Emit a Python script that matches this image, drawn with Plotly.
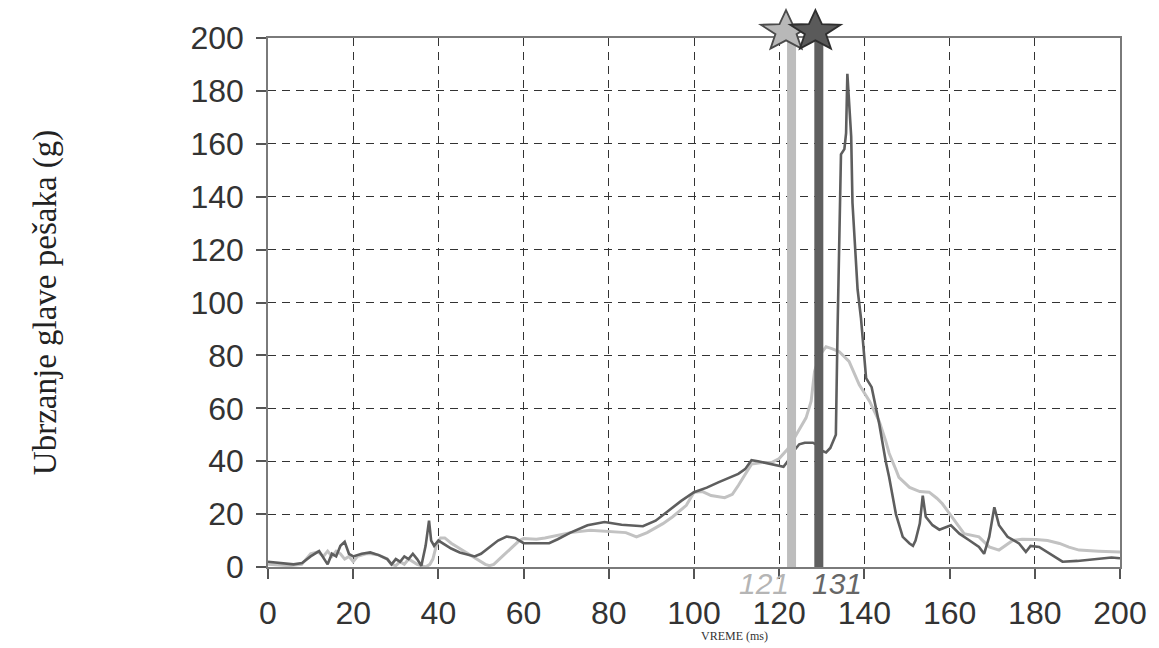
import math
import plotly.graph_objects as go

# ---- data ----
dark_x = [0, 3, 6, 8, 10, 12, 14, 15, 16, 17, 18, 19, 20, 22, 24, 26, 28, 29, 30, 31, 32, 33, 34, 35, 36, 37,
          37.8, 38.3, 39, 40, 41, 43, 45, 47, 48.5, 50, 52, 54, 56, 58, 60, 63, 66, 68, 71, 75, 79, 83, 88, 91,
          94, 97, 100, 103, 105.7, 108, 110.4, 112, 113.5, 115, 116.6, 118, 120, 121, 122, 123, 124.7, 126,
          127.9, 129, 130, 131, 132, 133.3, 133.7, 134, 134.5, 135.3, 135.7, 136, 136.4, 136.9, 137.2, 138.4,
          139.2, 140.4, 141.7, 143.5, 145, 145.8, 147.4, 149, 150.6, 151.4, 152, 153, 153.7, 154.4, 156, 157.6,
          160.3, 162.3, 164.6, 166.9, 168.1, 169.3, 170.5, 171.6, 173.6, 176.3, 177.9, 179, 181, 184.1, 186.5,
          190, 192, 196, 198, 200]
dark_y = [2, 1.5, 1, 1.5, 4, 6, 1, 5, 4, 8, 9.5, 5, 4, 5, 5.5, 4.5, 3, 1, 3, 2, 4, 3, 5, 3, 0.5, 8,
          17.5, 10, 8, 10, 9, 7, 5.5, 4.5, 4, 5, 7.5, 10, 11.5, 11, 9, 9, 9, 10.5, 13, 15.8, 17, 16, 15.4, 17.5,
          21.4, 25, 28.3, 30, 32, 33.5, 35.2, 37, 40.4, 40, 39.4, 39, 38, 37.9, 40, 43, 46.4, 47,
          47, 46, 44, 43.3, 45, 50, 90, 120, 156, 158, 164, 186.5, 175, 162.7, 137.7, 105,
          94, 71.4, 68, 54, 40, 34, 20, 11.4, 8.9, 8, 10, 16.4, 27, 19, 15.8, 14.1,
          15.8, 12.6, 10.1, 7.6, 5, 11.4, 22.6, 15.8, 11.4, 8.9, 5.7, 8, 7.6, 4.5, 2,
          2.3, 2.6, 3.2, 3.6, 3.3]

light_x = [0, 5, 7.9, 9, 10, 11.7, 13, 14, 15, 16, 17, 18, 19, 20, 21, 23, 24.3, 26, 28, 29, 30, 31, 32, 33, 34,
           35, 36, 37, 38, 38.7, 39.5, 40.5, 41.5, 43, 45, 47, 49, 51, 52, 53, 55, 57, 59, 60, 63, 65, 67.8, 71,
           75.6, 79, 81, 84, 86.5, 89, 92.7, 95, 98.2, 100, 102, 104, 107.2, 109, 110.4, 112, 113.5, 116, 118.2,
           120, 122, 124, 126.3, 127.5, 128.3, 129.5, 131, 132.5, 134.1, 136.4, 138.8, 141.2, 143.5, 145, 145.8,
           147.5, 148.1, 150.6, 153, 155.2, 157, 158.3, 160, 161.1, 163.4, 166.9, 169.3, 171.6, 173, 174.8, 177,
           180.3, 183, 185.8, 188, 190.4, 195, 200]
light_y = [1, 0.5, 1, 3, 5, 5.7, 4, 6, 4, 6, 5, 3, 4, 2, 4, 5, 5, 4.5, 3, 1, 0.5, 2, 1, 3, 2,
           1, 0.5, 0, 1, 3, 8, 11, 11, 9, 7, 5, 3, 1, 0.5, 1, 4, 7, 10, 10.8, 10.5, 11, 12, 13,
           13.9, 13.5, 13.3, 13, 11.4, 13, 16.4, 19, 23.3, 28.3, 28.5, 27, 26.2, 27.5, 30.8, 35, 38.9, 39.5, 39.5,
           41, 44.6, 50, 56.4, 62.7, 74, 80, 83.3, 82.5, 81.4, 77.7, 68.9, 62.7, 55, 47.7, 43,
           36.4, 33.9, 30.1, 28.5, 28.3, 26, 23.9, 20, 17.6, 12.6, 11.4, 7.6, 6.4, 8, 10, 10.5,
           10.4, 10, 8.9, 7.5, 6.4, 6, 5.7]

# event markers (bar positions as drawn) and their labels
event_x = [122.9, 129.3]
event_labels = ["121", "131"]
event_label_x = [116.5, 133.6]
star_x = [121.6, 128.5]

x_ticks = list(range(0, 201, 20))
y_ticks = list(range(0, 201, 20))

LIGHT = "#c2c2c2"
DARK = "#5e5e5e"

# layout geometry
W, H = 1151, 640
ML, MR, MT, MB = 260, 37, 26, 81
PW, PH = W - ML - MR, H - MT - MB
X_RANGE = [0, 200]

fig = go.Figure()

fig.add_trace(go.Scatter(x=light_x, y=light_y, mode="lines",
                         line=dict(color=LIGHT, width=3), showlegend=False, hoverinfo="skip"))
fig.add_trace(go.Scatter(x=dark_x, y=dark_y, mode="lines",
                         line=dict(color=DARK, width=2.6), showlegend=False, hoverinfo="skip"))

bar_colors = ["#bdbdbd", "#5f5f5f"]
for ex, col in zip(event_x, bar_colors):
    fig.add_trace(go.Scatter(x=[ex, ex], y=[0, 200], mode="lines",
                             line=dict(color=col, width=9), showlegend=False, hoverinfo="skip"))


def star_path(cx_data, cy_paper, rx_px, ry_px, inner=0.42):
    cx = (cx_data - X_RANGE[0]) / (X_RANGE[1] - X_RANGE[0])
    pts = []
    for k in range(10):
        a = math.radians(90 - 36 * k)
        f = 1.0 if k % 2 == 0 else inner
        px = cx + f * rx_px * math.cos(a) / PW
        py = cy_paper + f * ry_px * math.sin(a) / PH
        pts.append("%.5f,%.5f" % (px, py))
    return "M " + " L ".join(pts) + " Z"


star_fill = ["#b8b8b8", "#5a5a5a"]
star_line = ["#4a4a4a", "#2e2e2e"]
for sx, f, l in zip(star_x, star_fill, star_line):
    fig.add_shape(type="path", xref="paper", yref="paper", path=star_path(sx, 1.0125, 26.5, 21.5),
                  fillcolor=f, line=dict(color=l, width=1.8), layer="above")

label_colors = ["#b5b5b5", "#666666"]
for lx, txt, col in zip(event_label_x, event_labels, label_colors):
    fig.add_annotation(x=lx, y=-0.031, xref="x", yref="paper", text="<i>%s</i>" % txt, showarrow=False,
                       font=dict(family="Liberation Sans, Arial", size=30, color=col),
                       xanchor="center", yanchor="middle")

fig.add_annotation(x=-0.261, y=0.5, xref="paper", yref="paper", text="Ubrzanje glave pešaka (g)",
                   showarrow=False, textangle=-90,
                   font=dict(family="Liberation Serif, Times New Roman", size=33, color="#222"),
                   xanchor="center", yanchor="middle")
fig.add_annotation(x=0.547, y=-0.131, xref="paper", yref="paper", text="VREME (ms)",
                   showarrow=False,
                   font=dict(family="Liberation Serif, Times New Roman", size=12, color="#333"),
                   xanchor="center", yanchor="middle")

axis_common = dict(showline=True, linecolor="#7a7a7a", linewidth=1.5, mirror=True,
                   showgrid=True, gridcolor="#333333", gridwidth=1.2, griddash="8px,6px",
                   ticks="outside", ticklen=10, tickcolor="#555555", tickwidth=1.5,
                   tickfont=dict(family="Liberation Sans, Arial", size=32, color="#333333"),
                   zeroline=False)

fig.update_xaxes(range=X_RANGE, tickvals=x_ticks, ticklabelstandoff=7, **axis_common)
fig.update_yaxes(range=[0, 200], tickvals=y_ticks, ticklabelstandoff=6, **axis_common)

fig.update_layout(width=W, height=H, margin=dict(l=ML, r=MR, t=MT, b=MB),
                  plot_bgcolor="white", paper_bgcolor="white")

fig.write_html("out.html")
